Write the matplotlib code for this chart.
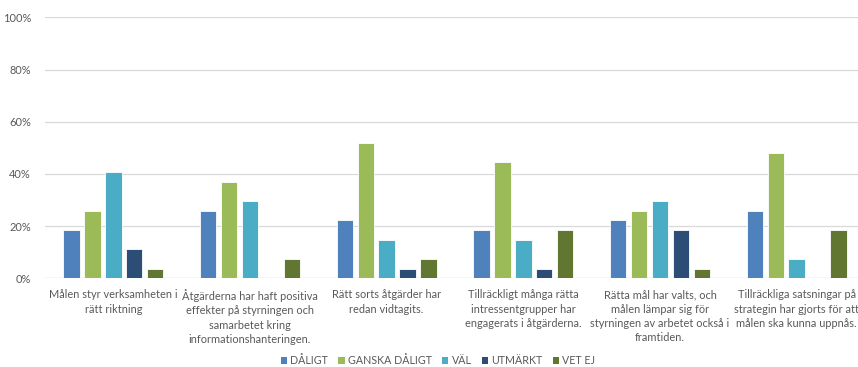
import numpy as np
import matplotlib
matplotlib.use("Agg")
import matplotlib.pyplot as plt
from matplotlib.patches import Patch

plt.rcParams["font.family"] = ["Lato", "DejaVu Sans"]

# Kategorier (frågor) och svarsandelar i procent
fragor = [
    "Målen styr verksamheten i\nrätt riktning",
    "Åtgärderna har haft positiva\neffekter på styrningen och\nsamarbetet kring\ninformationshanteringen.",
    "Rätt sorts åtgärder har\nredan vidtagits.",
    "Tillräckligt många rätta\nintressentgrupper har\nengagerats i åtgärderna.",
    "Rätta mål har valts, och\nmålen lämpar sig för\nstyrningen av arbetet också i\nframtiden.",
    "Tillräckliga satsningar på\nstrategin har gjorts för att\nmålen ska kunna uppnås.",
]
svar = ["DÅLIGT", "GANSKA DÅLIGT", "VÄL", "UTMÄRKT", "VET EJ"]

daligt = [18.5, 25.9, 22.2, 18.5, 22.2, 25.9]
ganska_daligt = [25.9, 37.0, 51.9, 44.4, 25.9, 48.1]
val = [40.7, 29.6, 14.8, 14.8, 29.6, 7.4]
utmarkt = [11.1, 0.0, 3.7, 3.7, 18.5, 0.0]
vet_ej = [3.7, 7.4, 7.4, 18.5, 3.7, 18.5]

serier = [daligt, ganska_daligt, val, utmarkt, vet_ej]
farger = ["#4F81BD", "#9BBB59", "#4BACC6", "#2C4D75", "#617631"]

GRAY = "#595959"
GRID = "#D9D9D9"
FS = 7.9

fig = plt.figure(figsize=(8.58, 3.67), dpi=100)
ax = fig.add_axes([45 / 858, 1 - 278.3 / 367, 820 / 858, 261 / 367])

x = np.arange(len(fragor))
pitch, bw = 0.153, 0.12
for i, (vals, c) in enumerate(zip(serier, farger)):
    ax.bar(x + (i - 2) * pitch, vals, width=bw, color=c,
           edgecolor="white", linewidth=0.6, zorder=3)

ax.set_xlim(-0.5, len(fragor) - 0.5)
ax.set_ylim(0, 100)
ax.set_yticks(range(0, 101, 20))
ax.set_yticklabels([f"{v}%" for v in range(0, 101, 20)], color=GRAY, fontsize=FS)
ax.tick_params(axis="y", length=0, pad=10)
ax.set_xticks(x)
ax.set_xticklabels(fragor, color=GRAY, fontsize=FS, linespacing=1.35, va="top")
ax.tick_params(axis="x", length=0, pad=8)
ax.grid(axis="y", color=GRID, linewidth=0.9, zorder=0)
for s in ax.spines.values():
    s.set_visible(False)
ax.axhline(0, color=GRID, linewidth=0.9, zorder=2)

handles = [Patch(facecolor=c, edgecolor="none") for c in farger]
fig.legend(handles, svar, loc="center", bbox_to_anchor=(0.5105, 0.0165), ncol=5,
           frameon=False, fontsize=7.7, handlelength=0.6, handleheight=0.6,
           handletextpad=0.3, columnspacing=0.95, labelcolor=GRAY)

fig.savefig("out.png", dpi=100)
